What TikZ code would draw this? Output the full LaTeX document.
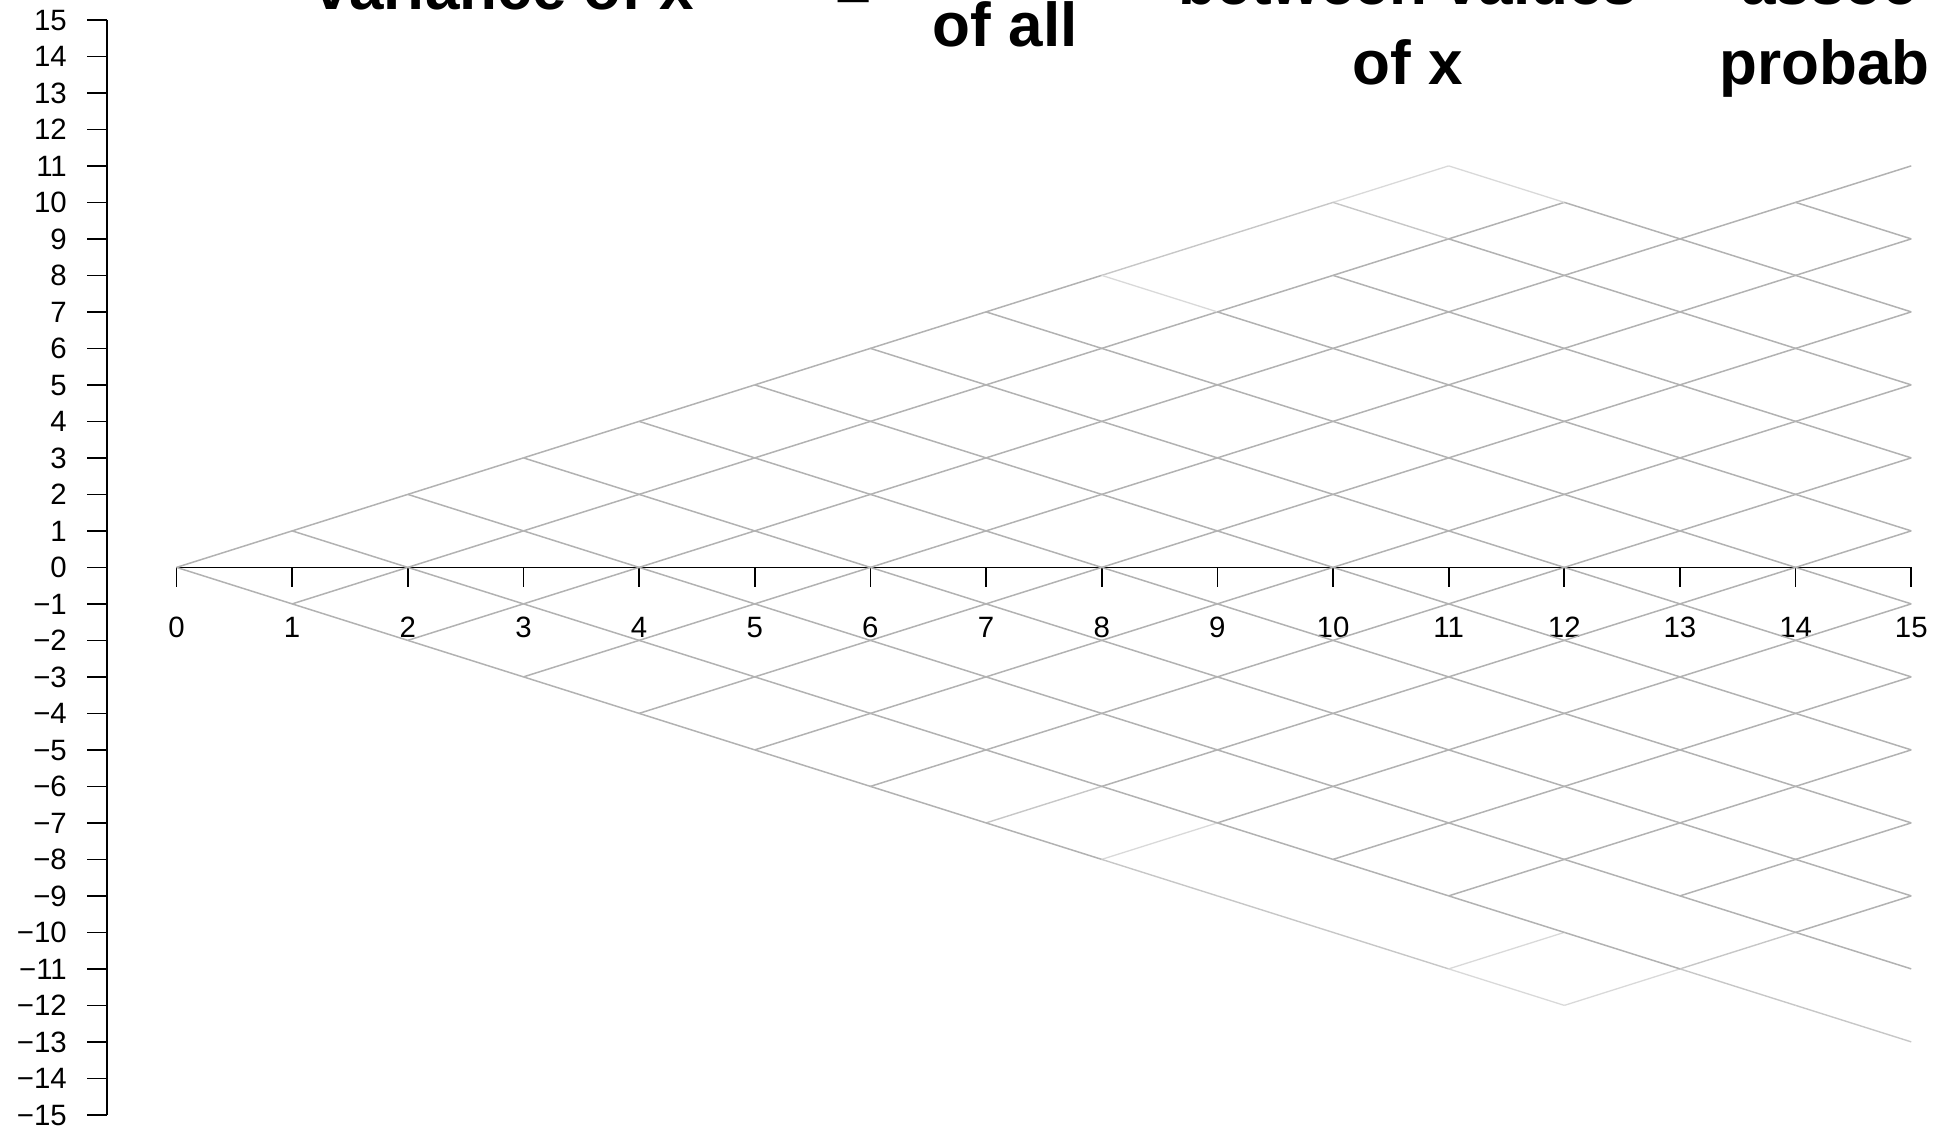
\documentclass[tikz,border=0pt]{standalone}
\usepackage{fontspec}
\setmainfont{Liberation Sans}
\begin{document}
\begin{tikzpicture}[x=57.825pt,y=18.25pt,
  declare function={
    smax(\a)=(\a<=11)*\a+(\a==12)*10+(\a==13)*9+(\a==14)*10+(\a==15)*11;
    smin(\a)=-((\a<=12)*\a+(\a==13)*11+(\a==14)*12+(\a==15)*13);
    nd(\a,\b)=iseven(\a+\b)*(\b>=smin(\a))*(\b<=smax(\a));
    isat(\a,\b,\c,\d)=(\a==\c)*(\b==\d);
  },
  e0/.style={draw=black!30,line width=0.75pt},
  e1/.style={draw=black!22,line width=0.7pt},
  e2/.style={draw=black!15,line width=0.65pt},
  axis/.style={draw=black,line width=0.85pt},
  ticklab/.style={inner sep=0pt,font=\fontsize{14.7pt}{16pt}\selectfont},
  title/.style={inner sep=0pt,font=\fontsize{31pt}{37pt}\selectfont\bfseries}]
\useasboundingbox (-1.5262,-15.468) rectangle (15.1967,15.545);
\clip (-1.5262,-15.468) rectangle (15.1967,15.545);

% lattice points
\foreach \t in {0,...,15}{
  \foreach \s in {-15,...,15}{
    \coordinate (n\t_\s) at (\t,\s);
  }
}

% title fragments (cut by the top edge, as in the reference)
\node[title,anchor=base] (t1) at (2.8357,15.271) {variance of x};
\node[title,anchor=base] (t2) at (5.858,15.22) {=};
\node[title,anchor=base] (t3) at (7.1664,14.266) {of all};
\node[title,anchor=base] (t4) at (10.649,15.408) {between values};
\node[title,anchor=base] (t5) at (10.649,13.216) {of x};
\node[title,anchor=base west] (t6) at (13.528,15.408) {assoc};
\node[title,anchor=base west] (t7) at (13.338,13.216) {probab};

% x axis
\draw[axis] (n0_0) -- (n15_0);
\foreach \t in {0,...,15}{
  \draw[axis] (n\t_0) -- ++(0,-0.532);
  \node[ticklab,anchor=base] (xl\t) at (\t,-1.915) {\t};
}

% y axis
\coordinate (ytop) at (-0.6035,15);
\coordinate (ybot) at (-0.6035,-15);
\draw[axis] (ytop) -- (ybot);
\foreach \s in {-15,...,15}{
  \coordinate (yk\s) at (-0.6035,\s);
  \draw[axis] (yk\s) -- ++(-0.1678,0);
  \pgfmathtruncatemacro\as{abs(\s)}
  \node[ticklab,anchor=base east] (yl\s) at (-0.945,\s-0.28) {\ifnum\s<0 −\fi\as};
}

% lattice edges
\foreach \t in {0,...,14}{
  \foreach \s in {-14,...,14}{
    \pgfmathtruncatemacro\tn{\t+1}
    \pgfmathtruncatemacro\su{\s+1}
    \pgfmathtruncatemacro\sd{\s-1}
    \pgfmathtruncatemacro\hu{nd(\t,\s)*nd(\t+1,\s+1)*(1-isat(\t,\s,9,-9)-isat(\t,\s,10,-10)-isat(\t,\s,12,-10)-isat(\t,\s,14,-12))}
    \pgfmathtruncatemacro\hd{nd(\t,\s)*nd(\t+1,\s-1)*(1-isat(\t,\s,9,9))}
    \pgfmathtruncatemacro\lu{2*(isat(\t,\s,10,10)+isat(\t,\s,8,-8)+isat(\t,\s,11,-11)+isat(\t,\s,12,-12))+isat(\t,\s,8,8)+isat(\t,\s,9,9)+isat(\t,\s,7,-7)+isat(\t,\s,13,-11)}
    \pgfmathtruncatemacro\ld{2*(isat(\t,\s,8,8)+isat(\t,\s,11,11)+isat(\t,\s,11,-11))+isat(\t,\s,10,10)+isat(\t,\s,8,-8)+isat(\t,\s,9,-9)+isat(\t,\s,10,-10)+isat(\t,\s,13,-11)+isat(\t,\s,14,-12)}
    \ifnum\hu=1 \draw[e\lu] (n\t_\s) -- (n\tn_\su); \fi
    \ifnum\hd=1 \draw[e\ld] (n\t_\s) -- (n\tn_\sd); \fi
  }
}
\end{tikzpicture}
\end{document}
